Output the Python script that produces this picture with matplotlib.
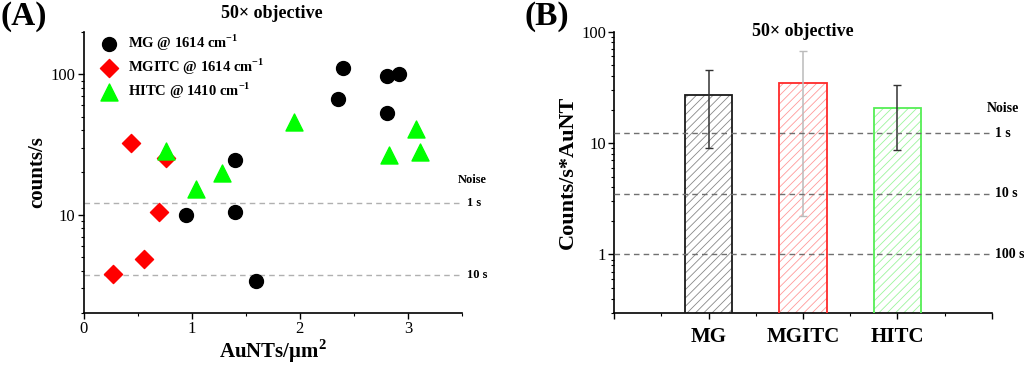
import matplotlib
matplotlib.use('Agg')
import matplotlib.pyplot as plt
from matplotlib.ticker import LogLocator, NullFormatter, FixedLocator, FixedFormatter
import matplotlib.transforms as mtransforms

plt.rcParams['font.family'] = ['Liberation Serif', 'DejaVu Serif']
plt.rcParams['mathtext.fontset'] = 'custom'
plt.rcParams['mathtext.rm'] = 'Liberation Serif'
plt.rcParams['mathtext.bf'] = 'Liberation Serif:bold'
plt.rcParams['hatch.linewidth'] = 0.6

# panel A: counts/s against AuNT density
mg_x = [0.95, 1.40, 1.40, 1.59, 2.35, 2.40, 2.81, 2.81, 2.92]
mg_y = [10.0, 10.4, 24.7, 3.37, 66.6, 111, 52.7, 97, 100]
mgitc_x = [0.27, 0.56, 0.70, 0.44, 0.76]
mgitc_y = [3.77, 4.81, 10.4, 32.4, 25.5]
hitc_x = [0.76, 1.04, 1.28, 1.95, 2.82, 3.07, 3.11]
hitc_y = [28.5, 15.3, 19.7, 45.6, 26.5, 40.9, 28.0]

noise_a = [12.1, 3.7]
noise_a_labels = ['1 s', '10 s']

# panel B: mean counts/s per AuNT
dyes = ['MG', 'MGITC', 'HITC']
means = [27.0, 34.5, 20.8]
errs = [18.0, 32.3, 12.1]

noise_b = [12.2, 3.5, 1.0]
noise_b_labels = ['1 s', '10 s', '100 s']

fig = plt.figure(figsize=(10.24, 3.65), dpi=100)
axA = fig.add_axes([0.0817, 0.1425, 0.3695, 0.770])
axB = fig.add_axes([0.5999, 0.1433, 0.3686, 0.770])

for ax in (axA, axB):
    ax.spines['top'].set_visible(False)
    ax.spines['right'].set_visible(False)
    ax.spines['left'].set_linewidth(1.2)
    ax.spines['bottom'].set_linewidth(1.2)
    ax.set_yscale('log')
    ax.tick_params(which='major', length=4, width=1, labelsize=12, pad=2)
    ax.tick_params(which='minor', length=2.5, width=0.8)

# ---- (A)
axA.scatter(mg_x, mg_y, s=100, marker='o', color='black', zorder=3,
            label='MG @ 1614 cm$^{\\mathbf{-1}}$')
axA.scatter(mgitc_x, mgitc_y, s=85, marker='D', color='#ff0000', zorder=3,
            label='MGITC @ 1614 cm$^{\\mathbf{-1}}$')
axA.scatter(hitc_x, hitc_y, s=150, marker='^', color='#00ff00', zorder=3,
            label='HITC @ 1410 cm$^{\\mathbf{-1}}$')

axA.set_xlim(0, 3.5)
axA.set_ylim(2, 200)
axA.xaxis.set_major_locator(FixedLocator([0, 1, 2, 3]))
axA.xaxis.set_minor_locator(FixedLocator([0.5, 1.5, 2.5, 3.5]))
axA.yaxis.set_major_locator(FixedLocator([10, 100]))
axA.yaxis.set_major_formatter(FixedFormatter(['10', '100']))
axA.yaxis.set_minor_locator(LogLocator(base=10, subs=range(2, 10)))
axA.yaxis.set_minor_formatter(NullFormatter())

transA = mtransforms.blended_transform_factory(axA.transAxes, axA.transData)
for val, lab in zip(noise_a, noise_a_labels):
    axA.axhline(val, color='#b0b0b0', lw=1, ls=(0, (4, 3)), zorder=1)
    axA.text(1.013, val, lab, transform=transA, fontsize=9, fontweight='bold',
             va='center', ha='left', clip_on=False)
axA.text(0.99, 17.7, 'Noise', transform=transA, fontsize=9, fontweight='bold',
         va='center', ha='left', clip_on=False)

axA.set_xlabel('AuNTs/μm$^\\mathbf{2}$', fontsize=15, fontweight='bold', labelpad=0)
axA.set_ylabel('counts/s', fontsize=15, fontweight='bold', labelpad=2)
axA.legend(loc='upper left', bbox_to_anchor=(0.005, 1.03), frameon=False,
           prop={'weight': 'bold', 'size': 10.5}, handletextpad=0.3,
           labelspacing=0.28, borderaxespad=0.2)

fig.text(272 / 1024, 1 - 13 / 365, '50× objective', fontsize=13, fontweight='bold',
         ha='center', va='center')
fig.text(0.0, 1 - 16 / 365, '(A)', fontsize=24, fontweight='bold', ha='left', va='center')

# ---- (B)
xpos = [1, 2, 3]
edge_cols = ['#1a1a1a', '#ff2a2a', '#55ee55']
hatch_cols = ['#888888', '#ff9a9a', '#9cf59c']
err_cols = ['#333333', '#bbbbbb', '#333333']
for x, m, e, ec, hc, erc in zip(xpos, means, errs, edge_cols, hatch_cols, err_cols):
    axB.bar(x, m, width=0.5, bottom=0.01, color='white', edgecolor=hc, hatch='////',
            linewidth=0, zorder=2)
    axB.bar(x, m, width=0.5, bottom=0.01, fill=False, edgecolor=ec, linewidth=1.3,
            zorder=3)
    axB.errorbar(x, m, yerr=e, fmt='none', ecolor=erc, elinewidth=1.1, capsize=3,
                 capthick=1, zorder=4)

axB.set_xlim(0, 4)
axB.set_ylim(0.3, 100)
axB.xaxis.set_major_locator(FixedLocator([0, 1, 2, 3, 4]))
axB.set_xticklabels([''] + dyes + [''])
axB.xaxis.set_minor_locator(FixedLocator([0.5, 1.5, 2.5, 3.5]))
axB.tick_params(axis='x', which='major', labelsize=15, pad=6)
for t in axB.get_xticklabels():
    t.set_fontweight('bold')
axB.yaxis.set_major_locator(FixedLocator([1, 10, 100]))
axB.yaxis.set_major_formatter(FixedFormatter(['1', '10', '100']))
axB.yaxis.set_minor_locator(LogLocator(base=10, subs=range(2, 10)))
axB.yaxis.set_minor_formatter(NullFormatter())

transB = mtransforms.blended_transform_factory(axB.transAxes, axB.transData)
for val, lab in zip(noise_b, noise_b_labels):
    axB.axhline(val, color='#707070', lw=1, ls=(0, (4, 3)), zorder=5)
    axB.text(1.009, val, lab, transform=transB, fontsize=10, fontweight='bold',
             va='center', ha='left', clip_on=False)
axB.text(0.988, 20.5, 'Noise', transform=transB, fontsize=10, fontweight='bold',
         va='center', ha='left', clip_on=False)

axB.set_ylabel('Counts/s*AuNT', fontsize=16, fontweight='bold', labelpad=2)
axB.text(0.5, 1.0, '50× objective', transform=axB.transAxes, fontsize=13,
         fontweight='bold', ha='center', va='center')
fig.text(525 / 1024, 1 - 16 / 365, '(B)', fontsize=24, fontweight='bold', ha='left', va='center')

fig.savefig('out.png', dpi=100)
